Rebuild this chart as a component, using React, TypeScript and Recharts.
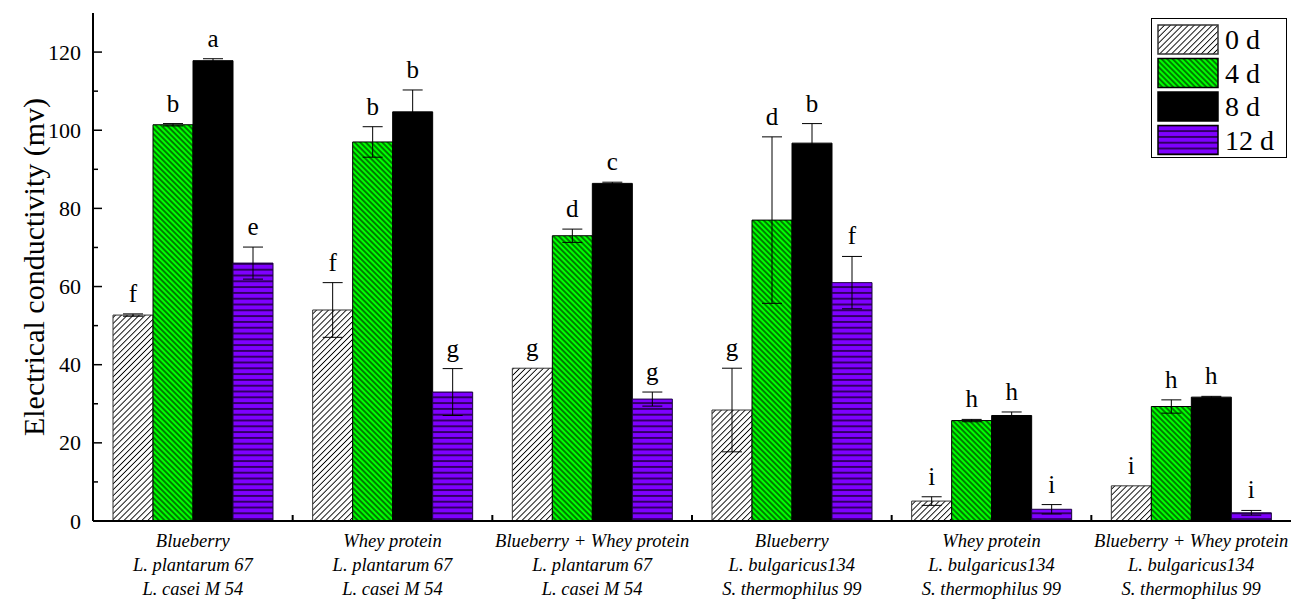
import { BarChart, Bar, XAxis, YAxis, ErrorBar, LabelList, Legend } from 'recharts';

const categories = [
	['Blueberry', 'L. plantarum 67', 'L. casei M 54'],
	['Whey protein', 'L. plantarum 67', 'L. casei M 54'],
	['Blueberry + Whey protein', 'L. plantarum 67', 'L. casei M 54'],
	['Blueberry', 'L. bulgaricus134', 'S. thermophilus 99'],
	['Whey protein', 'L. bulgaricus134', 'S. thermophilus 99'],
	['Blueberry + Whey protein', 'L. bulgaricus134', 'S. thermophilus 99'],
];

const day0 = [52.7, 54.0, 39.1, 28.4, 5.1, 9.0];
const day0Err = [0.3, 7.0, 0, 10.7, 1.1, 0];
const day0Sig = ['f', 'f', 'g', 'g', 'i', 'i'];

const day4 = [101.4, 97.0, 73.0, 77.0, 25.7, 29.3];
const day4Err = [0.3, 3.9, 1.7, 21.3, 0.3, 1.7];
const day4Sig = ['b', 'b', 'd', 'd', 'h', 'h'];

const day8 = [117.8, 104.7, 86.4, 96.7, 27.0, 31.7];
const day8Err = [0.5, 5.6, 0.3, 5.0, 0.9, 0.2];
const day8Sig = ['a', 'b', 'c', 'b', 'h', 'h'];

const day12 = [66.0, 33.0, 31.2, 61.0, 3.0, 2.1];
const day12Err = [4.1, 6.0, 1.8, 6.7, 1.2, 0.6];
const day12Sig = ['e', 'g', 'g', 'f', 'i', 'i'];

const yTicks = [0, 10, 20, 30, 40, 50, 60, 70, 80, 90, 100, 110, 120];

const serif = '"Times New Roman", "Liberation Serif", serif';

const series = [
	{ key: 'd0', name: '0 d', values: day0, err: day0Err, sig: day0Sig, fill: 'url(#pat0)', stroke: '#333' },
	{ key: 'd4', name: '4 d', values: day4, err: day4Err, sig: day4Sig, fill: 'url(#pat4)', stroke: '#000' },
	{ key: 'd8', name: '8 d', values: day8, err: day8Err, sig: day8Sig, fill: '#000', stroke: '#000' },
	{ key: 'd12', name: '12 d', values: day12, err: day12Err, sig: day12Sig, fill: 'url(#pat12)', stroke: '#1a0040' },
];

const data = categories.map((lines, i) => {
	const row: any = { name: lines.join('\n') };
	series.forEach(s => {
		row[s.key] = s.values[i];
		row[s.key + 'e'] = s.err[i];
	});
	return row;
});

// plot box: left 93, right 1291
const BAND = (1300 - 93 - 9) / categories.length;

const Patterns = ({ prefix }: { prefix: string }) => (
	<defs>
		<pattern id={prefix + '0'} width='4.2' height='4.2' patternUnits='userSpaceOnUse' patternTransform='rotate(45)'>
			<rect width='4.2' height='4.2' fill='#fff' />
			<line x1='2.1' y1='0' x2='2.1' y2='4.2' stroke='#000' strokeWidth='0.9' />
		</pattern>
		<pattern id={prefix + '4'} width='3.9' height='3.9' patternUnits='userSpaceOnUse' patternTransform='rotate(-45)'>
			<rect width='3.9' height='3.9' fill='#00ff00' />
			<line x1='1.95' y1='0' x2='1.95' y2='3.9' stroke='#000' strokeWidth='1' />
		</pattern>
		<pattern id={prefix + '12'} width='5.8' height='5.8' patternUnits='userSpaceOnUse'>
			<rect width='5.8' height='5.8' fill='#7f00ff' />
			<line x1='0' y1='2.9' x2='5.8' y2='2.9' stroke='#000' strokeWidth='1.2' />
		</pattern>
	</defs>
);

const YTick = ({ x, y, payload }: any) => {
	const major = payload.value % 20 === 0;
	return (
		<g>
			<line x1={x} x2={x + (major ? 9 : 5)} y1={y} y2={y} stroke='#000' strokeWidth={1.5} />
			{major && (
				<text x={x - 12} y={y} textAnchor='end' dominantBaseline='central' fontSize={22} fontFamily={serif} fill='#000'>
					{payload.value}
				</text>
			)}
		</g>
	);
};

const XTick = ({ x, y, payload, index }: any) => {
	const lines = String(payload.value).split('\n');
	return (
		<g>
			{index > 0 && <line x1={x - BAND / 2} x2={x - BAND / 2} y1={y} y2={y - 6} stroke='#000' strokeWidth={2} />}
			{lines.map((t, k) => (
				<text key={k} x={x} y={y + 26 + k * 24} textAnchor='middle' fontSize={18.5} fontStyle='italic' fontFamily={serif} fill='#000'>
					{t}
				</text>
			))}
		</g>
	);
};

const sigLabel = (s: any) => (props: any) => {
	const vb = props.viewBox ?? props;
	const { x, y, width, height } = vb;
	const i = props.index;
	const v = s.values[i];
	const k = v ? height / v : 0;
	return (
		<text x={x + width / 2} y={y - s.err[i] * k - 12} textAnchor='middle' fontSize={25} fontFamily={serif} fill='#000'>
			{s.sig[i]}
		</text>
	);
};

const LegendBox = () => (
	<svg width={136} height={140} style={{ display: 'block' }}>
		<Patterns prefix='lg' />
		<rect x={0.5} y={0.5} width={135} height={139} fill='#fff' stroke='#000' strokeWidth={1} />
		{series.map((s, i) => (
			<g key={s.key}>
				<rect
					x={7}
					y={7 + i * 33.5}
					width={60}
					height={29}
					fill={s.fill.replace('#pat', '#lg')}
					stroke={s.key === 'd0' ? '#333' : '#000'}
					strokeWidth={1.5}
				/>
				<text x={74} y={7 + i * 33.5 + 24} fontSize={28} fontFamily={serif} fill='#000'>
					{s.name}
				</text>
			</g>
		))}
	</svg>
);

export default function App() {
	return (
		<div style={{ position: 'absolute', left: 0, top: 0, background: '#fff' }}>
			<BarChart
				width={1300}
				height={600}
				data={data}
				margin={{ top: 13, right: 9, bottom: 5, left: 13 }}
				barCategoryGap={20}
				barGap={0}>
				<Patterns prefix='pat' />
				<XAxis
					dataKey='name'
					height={74}
					interval={0}
					tickSize={0}
					tickMargin={0}
					tickLine={false}
					tick={<XTick />}
					axisLine={{ stroke: '#000', strokeWidth: 2 }}
				/>
				<XAxis xAxisId='top' dataKey='name' orientation='top' height={0} tick={false} tickLine={false} axisLine={{ stroke: '#000', strokeWidth: 2 }} />
				<YAxis
					width={80}
					domain={[0, 130]}
					ticks={yTicks}
					interval={0}
					tickSize={0}
					tickMargin={0}
					tickLine={false}
					tick={<YTick />}
					axisLine={{ stroke: '#000', strokeWidth: 2 }}
					label={{
						content: ({ viewBox }: any) => {
							const cx = 33;
							const cy = viewBox.y + viewBox.height / 2;
							return (
								<text x={cx} y={cy} transform={`rotate(-90 ${cx} ${cy})`} textAnchor='middle' dominantBaseline='central' fontSize={30} fontFamily={serif} fill='#000'>
									Electrical conductivity (mv)
								</text>
							);
						},
					}}
				/>
				<YAxis yAxisId='right' orientation='right' width={0} tick={false} tickLine={false} axisLine={{ stroke: '#000', strokeWidth: 2 }} />
				<Legend
					layout='horizontal'
					verticalAlign='middle'
					align='center'
					wrapperStyle={{ left: 1151, top: 18, width: 136, height: 140 }}
					content={() => <LegendBox />}
				/>
				{series.map(s => (
					<Bar key={s.key} dataKey={s.key} name={s.name} fill={s.fill} stroke={s.stroke} strokeWidth={1} isAnimationActive={false}>
						<ErrorBar dataKey={s.key + 'e'} width={10} stroke='#000' strokeWidth={1} isAnimationActive={false} />
						<LabelList dataKey={s.key} content={sigLabel(s)} />
					</Bar>
				))}
			</BarChart>
		</div>
	);
}
